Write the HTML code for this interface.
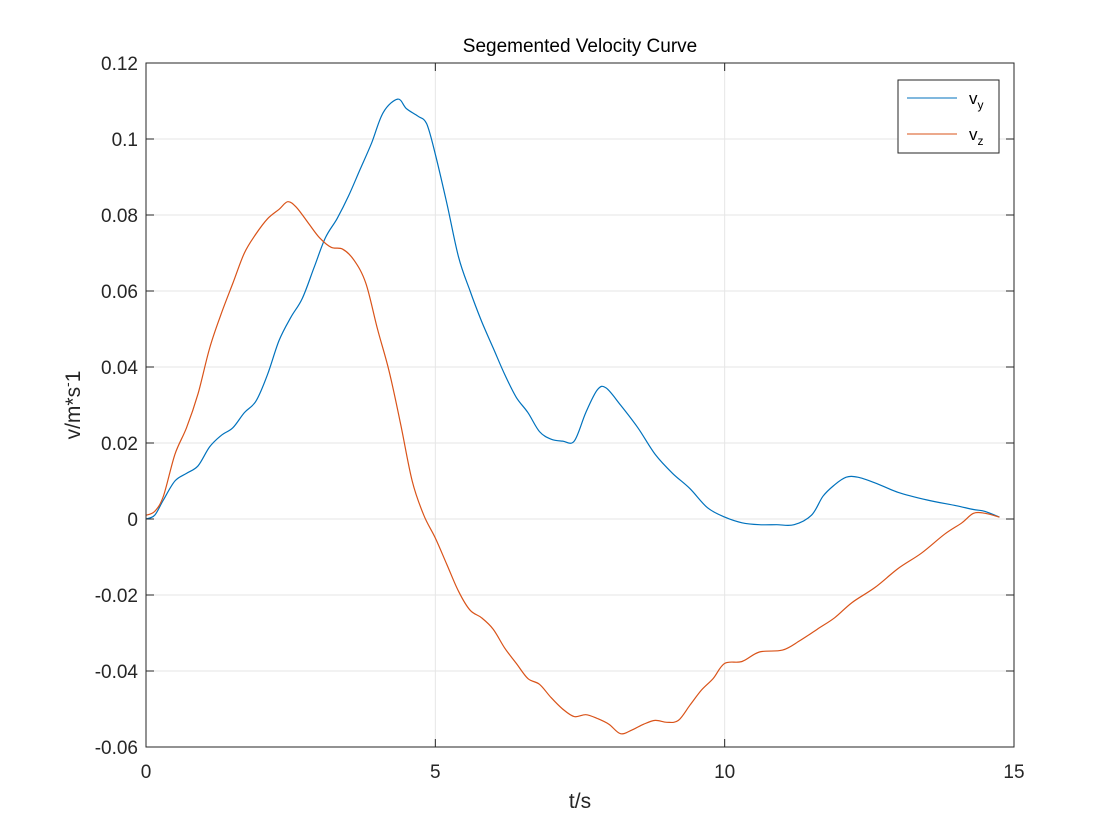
<!DOCTYPE html>
<html><head><meta charset="utf-8"><style>
body{margin:0;background:#fff;}
svg{display:block;font-family:"Liberation Sans",sans-serif;}
</style></head><body>
<svg id="chart" width="1120" height="840" viewBox="0 0 1120 840">
<rect x="0" y="0" width="1120" height="840" fill="#fff"/>
<g id="grid"></g>
<g id="series"></g>
<rect x="146" y="63" width="868" height="684" fill="none" stroke="#262626" stroke-width="1"/>
<g id="ticks"></g>
<text x="580" y="52" text-anchor="middle" font-size="19" fill="#000">Segemented Velocity Curve</text>
<text x="580" y="808" text-anchor="middle" font-size="21" fill="#262626">t/s</text>
<text transform="translate(80,405) rotate(-90)" text-anchor="middle" font-size="21" fill="#262626">v/m*s<tspan dy="-8" font-size="14">-</tspan><tspan dy="8">1</tspan></text>
<g>
<rect x="898" y="80" width="101" height="73" fill="#fff" stroke="#262626" stroke-width="1"/>
<line x1="907" y1="98" x2="957" y2="98" stroke="#0072BD" stroke-width="1"/>
<text x="969" y="104" font-size="17" fill="#000">v<tspan dy="5" font-size="12">y</tspan></text>
<line x1="907" y1="134" x2="957" y2="134" stroke="#D95319" stroke-width="1"/>
<text x="969" y="140" font-size="17" fill="#000">v<tspan dy="5" font-size="12">z</tspan></text>
</g>
</svg>
<script>
const xTicks=[0,5,10,15];
const yTicks=[-0.06,-0.04,-0.02,0,0.02,0.04,0.06,0.08,0.1,0.12];
const yTickLabels=["-0.06","-0.04","-0.02","0","0.02","0.04","0.06","0.08","0.1","0.12"];
const vyT=[0,0.15,0.3,0.5,0.7,0.9,1.1,1.3,1.5,1.7,1.9,2.1,2.3,2.5,2.7,2.9,3.1,3.3,3.5,3.7,3.9,4.1,4.35,4.5,4.7,4.85,5.0,5.2,5.4,5.6,5.8,6.0,6.2,6.4,6.6,6.8,7.0,7.2,7.4,7.6,7.8,7.95,8.2,8.5,8.8,9.1,9.4,9.7,10.0,10.3,10.6,10.9,11.2,11.5,11.7,11.9,12.1,12.3,12.6,13,13.5,14,14.3,14.5,14.75];
const vyV=[0,0.001,0.005,0.01,0.012,0.014,0.019,0.022,0.024,0.028,0.031,0.038,0.047,0.053,0.058,0.066,0.074,0.079,0.085,0.092,0.099,0.107,0.1105,0.108,0.106,0.104,0.096,0.083,0.069,0.060,0.052,0.045,0.038,0.032,0.028,0.023,0.021,0.0205,0.0205,0.028,0.034,0.0345,0.030,0.024,0.017,0.012,0.008,0.003,0.0005,-0.001,-0.0015,-0.0015,-0.0015,0.001,0.006,0.009,0.011,0.011,0.0095,0.007,0.005,0.0035,0.0025,0.002,0.0005];
const vzT=[0,0.15,0.3,0.5,0.7,0.9,1.1,1.3,1.5,1.7,1.9,2.1,2.3,2.45,2.6,2.8,3.0,3.2,3.4,3.6,3.8,4.0,4.2,4.4,4.6,4.8,5.0,5.2,5.4,5.6,5.8,6.0,6.2,6.4,6.6,6.8,7.0,7.2,7.4,7.6,7.8,8.0,8.2,8.4,8.6,8.8,9.0,9.2,9.4,9.6,9.8,10.0,10.3,10.6,11.0,11.3,11.6,11.9,12.2,12.6,13.0,13.4,13.8,14.1,14.3,14.5,14.75];
const vzV=[0.001,0.002,0.006,0.017,0.024,0.033,0.045,0.054,0.062,0.070,0.075,0.079,0.0815,0.0835,0.082,0.078,0.074,0.0715,0.071,0.068,0.062,0.05,0.039,0.025,0.010,0.001,-0.005,-0.012,-0.019,-0.024,-0.026,-0.029,-0.034,-0.038,-0.042,-0.0435,-0.047,-0.050,-0.052,-0.0515,-0.0525,-0.054,-0.0565,-0.0555,-0.054,-0.053,-0.0535,-0.053,-0.049,-0.045,-0.042,-0.038,-0.0375,-0.035,-0.0345,-0.032,-0.029,-0.026,-0.022,-0.018,-0.013,-0.009,-0.004,-0.001,0.0015,0.0015,0.0005];
const X0=146,X1=1014,Y0=747,Y1=63;
const xs=t=>X0+(t-0)/15*(X1-X0);
const ys=v=>Y0-(v+0.06)/0.18*(Y0-Y1);
const NS="http://www.w3.org/2000/svg";
const grid=document.getElementById('grid'),ticks=document.getElementById('ticks'),series=document.getElementById('series');
function mk(tag,attrs,parent){const e=document.createElementNS(NS,tag);for(const k in attrs)e.setAttribute(k,attrs[k]);parent.appendChild(e);return e;}
xTicks.forEach(t=>{
 const x=xs(t);
 const g=mk('line',{x1:x,x2:x,y1:Y0,y2:Y1,stroke:'#e6e6e6','stroke-width':1},grid);
 
 
 mk('line',{x1:x,x2:x,y1:Y0,y2:Y0-8,stroke:'#262626'},ticks);
 mk('line',{x1:x,x2:x,y1:Y1,y2:Y1+8,stroke:'#262626'},ticks);
 const l=mk('text',{x:x,y:Y0+31,'text-anchor':'middle','font-size':19,fill:'#262626'},ticks);
 l.textContent=t;
 
 
});
yTicks.forEach((v,i)=>{
 const y=ys(v);
 const g=mk('line',{x1:X0,x2:X1,y1:y,y2:y,stroke:'#e6e6e6','stroke-width':1},grid);
 
 
 mk('line',{x1:X0,x2:X0+8,y1:y,y2:y,stroke:'#262626'},ticks);
 mk('line',{x1:X1,x2:X1-8,y1:y,y2:y,stroke:'#262626'},ticks);
 const l=mk('text',{x:X0-8,y:y+7,'text-anchor':'end','font-size':19,fill:'#262626'},ticks);
 l.textContent=yTickLabels[i];
 
 
});
function drawLine(T,V,color,name){
 const P=T.map((t,i)=>[xs(t),ys(V[i])]);
 let d='M'+P[0][0].toFixed(1)+' '+P[0][1].toFixed(1);
 for(let i=0;i<P.length-1;i++){
  const p0=P[Math.max(0,i-1)],p1=P[i],p2=P[i+1],p3=P[Math.min(P.length-1,i+2)];
  const c1=[p1[0]+(p2[0]-p0[0])/6,p1[1]+(p2[1]-p0[1])/6];
  const c2=[p2[0]-(p3[0]-p1[0])/6,p2[1]-(p3[1]-p1[1])/6];
  d+=' C'+c1[0].toFixed(1)+' '+c1[1].toFixed(1)+' '+c2[0].toFixed(1)+' '+c2[1].toFixed(1)+' '+p2[0].toFixed(1)+' '+p2[1].toFixed(1);
 }
 const p=mk('path',{d:d,fill:'none',stroke:color,'stroke-width':1.2,'stroke-linejoin':'round'},series);
 
 
}
drawLine(vyT,vyV,'#0072BD','vy-line');
drawLine(vzT,vzV,'#D95319','vz-line');
</script>
</body></html>
